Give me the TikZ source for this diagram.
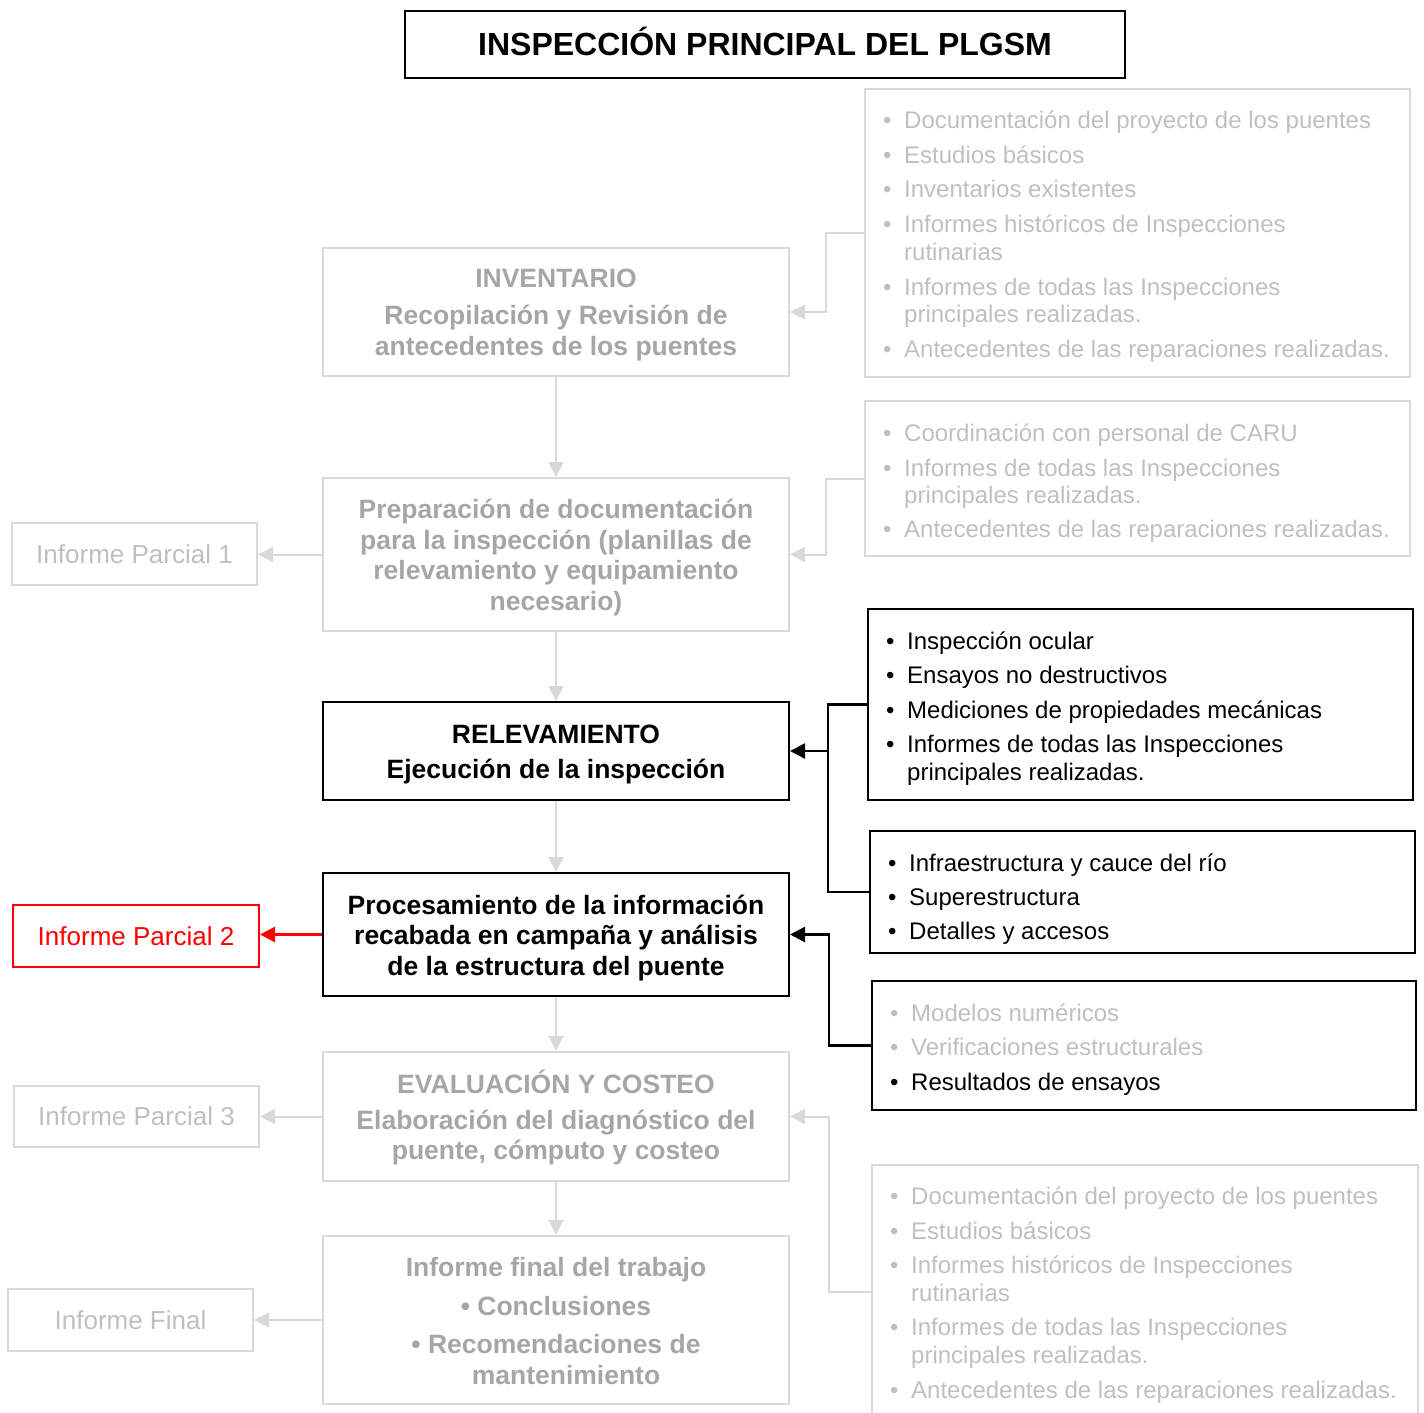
\documentclass[tikz,border=0pt]{standalone}
\usepackage{fontspec}
\setmainfont{Liberation Sans}
\usetikzlibrary{arrows.meta}
\definecolor{bordergray}{HTML}{D9D9D9}
\definecolor{textgray}{HTML}{BFBFBF}
\definecolor{boldgray}{HTML}{A6A6A6}
\newcommand{\bl}{\makebox[21pt][l]{\textbullet}}
\newcommand{\ind}{\hspace*{21pt}}
\begin{document}
\begin{tikzpicture}[x=1pt,y=-1pt,
  gbox/.style={draw=bordergray, line width=2pt, inner sep=0pt, minimum width=466pt},
  bbox/.style={gbox, draw=black},
  gtext/.style={text=boldgray, font=\bfseries\fontsize{26.5}{30.7}\selectfont, align=center, inner sep=0pt},
  btext/.style={gtext, text=black},
  ipbox/.style={draw=bordergray, line width=2pt, text=textgray, font=\fontsize{26}{30}\selectfont, inner sep=0pt, minimum width=245pt, minimum height=62pt},
  lbox/.style={draw=bordergray, line width=2pt, inner sep=0pt},
  lboxb/.style={lbox, draw=black},
  ltext/.style={text=textgray, font=\fontsize{24}{27.5}\selectfont, align=left, inner sep=0pt, anchor=west},
  ltextb/.style={ltext, text=black},
  garrow/.style={draw=bordergray, line width=2pt, -{Triangle[length=15pt,width=15pt]}},
  bline/.style={draw=black, line width=2.5pt},
  barrow/.style={bline, -{Triangle[length=15pt,width=15pt]}},
  rarrow/.style={draw=red, line width=2.5pt, -{Triangle[length=15pt,width=15pt]}},
  gline/.style={draw=bordergray, line width=2pt}
]
\useasboundingbox (0,0) rectangle (1424,1413);

% title
\node[draw=black, line width=2pt, minimum width=720pt, minimum height=67pt, inner sep=0pt] (T) at (765,44.5) {};
\node[inner sep=0pt, font=\bfseries\fontsize{32}{36}\selectfont] (Tt) at ([yshift=3pt]T.center) {INSPECCIÓN PRINCIPAL DEL PLGSM};

% main column
\node[gbox, minimum height=128pt] (A) at (556,312) {};
\node[gtext] (At) at ([yshift=-3pt]A.center) {INVENTARIO\\[6.5pt]Recopilación y Revisión de\\antecedentes de los puentes};
\node[gbox, minimum height=153pt] (B) at (556,554.5) {};
\node[gtext] (Bt) at ([yshift=-3pt]B.center) {Preparación de documentación\\para la inspección (planillas de\\relevamiento y equipamiento\\necesario)};
\node[bbox, minimum height=98pt] (C) at (556,751) {};
\node[btext] (Ct) at ([yshift=-3.5pt]C.center) {RELEVAMIENTO\\[4.5pt]Ejecución de la inspección};
\node[bbox, minimum height=123pt] (D) at (556,934.5) {};
\node[btext] (Dt) at ([yshift=-3.5pt]D.center) {Procesamiento de la información\\recabada en campaña y análisis\\de la estructura del puente};
\node[gbox, minimum height=129pt] (E) at (556,1116.5) {};
\node[gtext] (Et) at ([yshift=-1pt]E.center) {EVALUACIÓN Y COSTEO\\[5.5pt]Elaboración del diagnóstico del\\puente, cómputo y costeo};
\node[gbox, minimum height=168pt] (F) at (556,1320) {};
\node[gtext] (Ft) at ([yshift=-1pt]F.center) {Informe final del trabajo\\[7.5pt]\textbullet\ Conclusiones\\[7.5pt]\textbullet\ Recomendaciones de\\\hspace*{20pt}mantenimiento};

% informes
\node[ipbox] (IP1) at (134.5,554) {Informe Parcial 1};
\node[ipbox, draw=red, text=red, minimum width=246pt] (IP2) at (136,936) {Informe Parcial 2};
\node[ipbox, minimum height=61pt] (IP3) at (136.5,1116.5) {Informe Parcial 3};
\node[ipbox] (IF) at (130.5,1320) {Informe Final};

% list boxes
\node[lbox, minimum width=545pt, minimum height=288pt] (L1) at (1137.5,233) {};
\node[ltext] (L1t) at ([xshift=19pt,yshift=-3.5pt]L1.west) {\bl Documentación del proyecto de los puentes\\[7.3pt]
\bl Estudios básicos\\[7.3pt]
\bl Inventarios existentes\\[7.3pt]
\bl Informes históricos de Inspecciones\\
\ind rutinarias\\[7.3pt]
\bl Informes de todas las Inspecciones\\
\ind principales realizadas.\\[7.3pt]
\bl Antecedentes de las reparaciones realizadas.};

\node[lbox, minimum width=545pt, minimum height=155pt] (L2) at (1137.5,478.5) {};
\node[ltext] (L2t) at ([xshift=19pt,yshift=-5pt]L2.west) {\bl Coordinación con personal de CARU\\[6.8pt]
\bl Informes de todas las Inspecciones\\
\ind principales realizadas.\\[6.8pt]
\bl Antecedentes de las reparaciones realizadas.};

\node[lboxb, minimum width=545pt, minimum height=191pt] (L3) at (1140.5,704.5) {};
\node[ltextb] (L3t) at ([xshift=19pt,yshift=-4pt]L3.west) {\bl Inspección ocular\\[6.8pt]
\bl Ensayos no destructivos\\[6.8pt]
\bl Mediciones de propiedades mecánicas\\[6.8pt]
\bl Informes de todas las Inspecciones\\
\ind principales realizadas.};

\node[lboxb, minimum width=545pt, minimum height=122pt] (L4) at (1142.5,892) {};
\node[ltextb] (L4t) at ([xshift=19pt,yshift=-7pt]L4.west) {\bl Infraestructura y cauce del río\\[6.8pt]
\bl Superestructura\\[6.8pt]
\bl Detalles y accesos};

\node[lboxb, minimum width=544pt, minimum height=129pt] (L5) at (1144,1045.5) {};
\node[ltextb] (L5t) at ([xshift=19pt,yshift=-4pt]L5.west) {{\color{textgray}\bl Modelos numéricos}\\[6.8pt]
{\color{textgray}\bl Verificaciones estructurales}\\[6.8pt]
\bl Resultados de ensayos};

\node[lbox, minimum width=546pt, minimum height=254pt] (L6) at (1145,1292) {};
\node[ltext] (L6t) at ([xshift=19pt,yshift=-3pt]L6.west) {\bl Documentación del proyecto de los puentes\\[7.1pt]
\bl Estudios básicos\\[7.1pt]
\bl Informes históricos de Inspecciones\\
\ind rutinarias\\[7.1pt]
\bl Informes de todas las Inspecciones\\
\ind principales realizadas.\\[7.1pt]
\bl Antecedentes de las reparaciones realizadas.};

% vertical flow
\draw[garrow] (A.south) -- (B.north);
\draw[garrow] (B.south) -- (C.north);
\draw[garrow] (C.south) -- (D.north);
\draw[garrow] (D.south) -- (E.north);
\draw[garrow] (E.south) -- (F.north);

% to informes
\draw[garrow] (B.west) -- (B.west -| IP1.east);
\draw[rarrow] (D.west) -- (D.west -| IP2.east);
\draw[garrow] (E.west) -- (E.west -| IP3.east);
\draw[garrow] (F.west) -- (F.west -| IF.east);

% lists to boxes
\draw[garrow] (L1.west) -- ++(-38,0) |- (A.east);
\draw[garrow] (L2.west) -- ++(-38,0) |- (B.east);
\draw[bline] (L3.west) -- ++(-39,0) coordinate (j3) |- (L4.west);
\draw[barrow] (j3 |- C.east) -- (C.east);
\draw[barrow] (L5.west) -- ++(-42,0) |- (D.east);
\draw[garrow] (L6.west) -- ++(-42,0) |- (E.east);
\end{tikzpicture}
\end{document}
